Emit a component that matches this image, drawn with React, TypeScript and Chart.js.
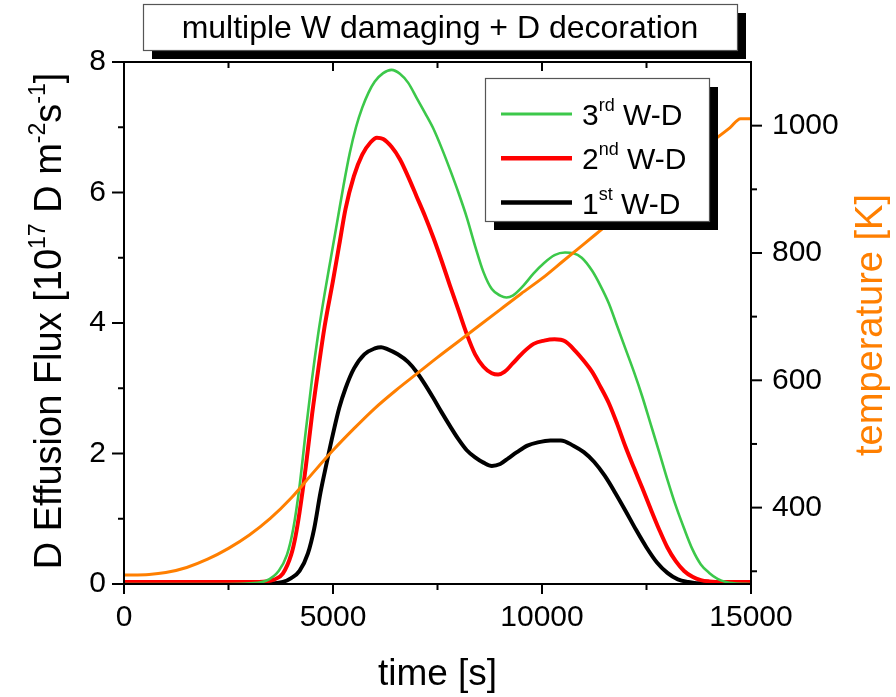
import React, { useEffect, useRef } from 'react';
import { Chart, registerables } from 'chart.js';

Chart.register(...registerables);

const FONT = '"Liberation Sans", Arial, Helvetica, sans-serif';

// Axis ticks
const timeTicks = [0, 5000, 10000, 15000];
const timeMinorTicks = [2500, 7500, 12500];
const fluxTicks = [0, 2, 4, 6, 8];
const fluxMinorTicks = [1, 3, 5, 7];
const tempTicks = [400, 600, 800, 1000];
const tempMinorTicks = [300, 500, 700, 900];

// 1st W-D desorption flux [1e17 D m^-2 s^-1]
const firstTime = [0, 2000, 3000, 3500, 3800, 4000, 4200, 4400, 4550, 4700, 4850, 5000, 5150, 5300, 5500, 5750, 6000, 6150, 6300, 6550, 6800, 7000, 7200, 7400, 7600, 7800, 8000, 8200, 8400, 8600, 8800, 9000, 9200, 9400, 9650, 9900, 10200, 10450, 10750, 11000, 11250, 11500, 11750, 12000, 12250, 12500, 12750, 13000, 13250, 13500, 13750, 14000, 15000];
const firstFlux = [0.01, 0.01, 0.01, 0.01, 0.03, 0.09, 0.2, 0.47, 0.85, 1.4, 1.86, 2.3, 2.7, 3.0, 3.3, 3.52, 3.61, 3.63, 3.6, 3.52, 3.4, 3.25, 3.06, 2.85, 2.63, 2.42, 2.22, 2.05, 1.94, 1.86, 1.81, 1.84, 1.93, 2.02, 2.12, 2.17, 2.2, 2.2, 2.12, 2.02, 1.87, 1.66, 1.4, 1.12, 0.83, 0.56, 0.33, 0.17, 0.07, 0.03, 0.01, 0.01, 0.01];

// 2nd W-D
const secondTime = [0, 2000, 3000, 3400, 3600, 3800, 4000, 4100, 4200, 4350, 4500, 4650, 4800, 5000, 5150, 5300, 5500, 5700, 5900, 6050, 6200, 6400, 6600, 6800, 7000, 7200, 7400, 7600, 7800, 8000, 8200, 8400, 8600, 8800, 8950, 9100, 9300, 9550, 9800, 10050, 10300, 10550, 10800, 11000, 11200, 11400, 11600, 11800, 12000, 12200, 12400, 12600, 12800, 13000, 13200, 13400, 13600, 13800, 14000, 14300, 15000];
const secondFlux = [0.03, 0.03, 0.03, 0.04, 0.07, 0.16, 0.45, 0.72, 1.1, 1.8, 2.6, 3.3, 3.95, 4.65, 5.2, 5.75, 6.25, 6.58, 6.77, 6.84, 6.82, 6.7, 6.51, 6.24, 5.94, 5.64, 5.31, 4.95, 4.57, 4.2, 3.83, 3.52, 3.33, 3.23, 3.21, 3.25, 3.38, 3.55, 3.68, 3.73, 3.75, 3.72, 3.57, 3.42, 3.25, 3.02, 2.77, 2.45, 2.1, 1.78, 1.47, 1.15, 0.84, 0.56, 0.35, 0.2, 0.11, 0.06, 0.04, 0.03, 0.03];

// 3rd W-D
const thirdTime = [0, 2500, 3000, 3400, 3700, 3900, 4050, 4200, 4350, 4500, 4650, 4800, 4950, 5100, 5250, 5400, 5550, 5700, 5850, 6000, 6200, 6400, 6600, 6800, 7000, 7200, 7400, 7600, 7800, 8000, 8200, 8400, 8600, 8800, 9000, 9150, 9300, 9550, 9800, 10050, 10300, 10550, 10750, 10950, 11200, 11400, 11600, 11800, 12000, 12200, 12400, 12600, 12800, 13000, 13200, 13400, 13600, 13800, 14000, 14200, 14400, 14600, 15000];
const thirdFlux = [0.0, 0.0, 0.01, 0.05, 0.2, 0.45, 0.85, 1.5, 2.35, 3.15, 3.85, 4.45, 5.0, 5.55, 6.1, 6.6, 7.0, 7.3, 7.53, 7.7, 7.83, 7.88, 7.82, 7.68, 7.45, 7.22, 6.98, 6.68, 6.35, 6.0, 5.62, 5.18, 4.78, 4.52, 4.42, 4.39, 4.42, 4.57, 4.76, 4.92, 5.04, 5.08, 5.07, 5.0, 4.8, 4.57, 4.3, 3.95, 3.6, 3.25, 2.87, 2.45, 2.03, 1.6, 1.2, 0.85, 0.53, 0.3, 0.17, 0.08, 0.03, 0.01, 0.0];

// Sample temperature [K]
const tempTime = [0, 600, 1000, 1500, 2000, 2500, 3000, 3500, 4000, 4500, 5000, 5500, 6000, 6500, 7000, 7500, 8000, 8500, 9000, 9500, 10000, 10500, 11000, 11500, 12000, 12500, 13000, 13500, 14000, 14500, 14750, 15000];
const temperature = [294, 295, 298, 306, 319, 336, 357, 383, 415, 453, 490, 524, 556, 584, 610, 636, 661, 686, 711, 736, 760, 787, 814, 841, 868, 895, 921, 947, 972, 997, 1011, 1011];

// Legend entries, top to bottom
const legendNumbers = ['3', '2', '1'];
const legendSuffixes = ['rd', 'nd', 'st'];
const legendColors = ['#3cc84a', '#ff0000', '#000000'];
const legendWidths = [3, 4.5, 4.5];

const GREEN = '#3cc84a';
const RED = '#ff0000';
const BLACK = '#000000';
const ORANGE = '#ff7f00';

const pts = (xs: number[], ys: number[]) => xs.map((x, i) => ({ x, y: ys[i] }));

type Part = { text: string; size: number; rise?: number };

function richWidth(ctx: CanvasRenderingContext2D, parts: Part[]) {
  let w = 0;
  for (const p of parts) {
    ctx.font = `${p.size}px ${FONT}`;
    w += ctx.measureText(p.text).width;
  }
  return w;
}

function drawRich(ctx: CanvasRenderingContext2D, parts: Part[], x: number, y: number) {
  let cx = x;
  ctx.textBaseline = 'alphabetic';
  ctx.textAlign = 'left';
  for (const p of parts) {
    ctx.font = `${p.size}px ${FONT}`;
    ctx.fillText(p.text, cx, y - (p.rise || 0));
    cx += ctx.measureText(p.text).width;
  }
}

const framePlugin = {
  id: 'frameAndTicks',
  afterDraw(chart: any) {
    const { ctx, chartArea: a, scales } = chart;
    const sx = scales.x, sy = scales.y, sy2 = scales.y2;
    ctx.save();
    ctx.strokeStyle = '#000';
    ctx.lineWidth = 2;
    ctx.lineCap = 'butt';
    ctx.strokeRect(a.left, a.top, a.right - a.left, a.bottom - a.top);
    const line = (x1: number, y1: number, x2: number, y2: number) => {
      ctx.beginPath();
      ctx.moveTo(x1, y1);
      ctx.lineTo(x2, y2);
      ctx.stroke();
    };
    fluxTicks.forEach((v) => { const p = sy.getPixelForValue(v); line(a.left - 12, p, a.left, p); });
    fluxMinorTicks.forEach((v) => { const p = sy.getPixelForValue(v); line(a.left - 6, p, a.left, p); });
    tempTicks.forEach((v) => { const p = sy2.getPixelForValue(v); line(a.right, p, a.right + 11, p); });
    tempMinorTicks.forEach((v) => { const p = sy2.getPixelForValue(v); line(a.right, p, a.right + 6, p); });
    timeTicks.forEach((v) => {
      const p = sx.getPixelForValue(v);
      line(p, a.bottom, p, a.bottom + 10);
      line(p, a.top, p, a.top + 9);
    });
    timeMinorTicks.forEach((v) => {
      const p = sx.getPixelForValue(v);
      line(p, a.bottom, p, a.bottom + 6);
      line(p, a.top, p, a.top + 6);
    });
    ctx.restore();
  },
};

const annotationPlugin = {
  id: 'titlesAndLegend',
  afterDraw(chart: any) {
    const { ctx, chartArea: a } = chart;
    ctx.save();

    // Title box with drop shadow
    const tb = { x: 143, y: 4, w: 594, h: 46 };
    ctx.fillStyle = '#000';
    ctx.fillRect(tb.x + 9, tb.y + 9, tb.w, tb.h);
    ctx.fillStyle = '#fff';
    ctx.fillRect(tb.x, tb.y, tb.w, tb.h);
    ctx.strokeStyle = '#555';
    ctx.lineWidth = 1.2;
    ctx.strokeRect(tb.x + 0.5, tb.y + 0.5, tb.w, tb.h);
    ctx.fillStyle = '#000';
    ctx.font = `32px ${FONT}`;
    ctx.textAlign = 'center';
    ctx.textBaseline = 'alphabetic';
    ctx.fillText('multiple W damaging + D decoration', tb.x + tb.w / 2, 38);

    // Legend box with drop shadow
    const lb = { x: 485, y: 78, w: 224, h: 143 };
    ctx.fillStyle = '#000';
    ctx.fillRect(lb.x + 9, lb.y + 9, lb.w, lb.h);
    ctx.fillStyle = '#fff';
    ctx.fillRect(lb.x, lb.y, lb.w, lb.h);
    ctx.strokeStyle = '#555';
    ctx.lineWidth = 1.2;
    ctx.strokeRect(lb.x + 0.5, lb.y + 0.5, lb.w, lb.h);
    legendNumbers.forEach((n, i) => {
      const ry = 114 + i * 44.3;
      ctx.strokeStyle = legendColors[i];
      ctx.lineWidth = legendWidths[i];
      ctx.beginPath();
      ctx.moveTo(501, ry);
      ctx.lineTo(572, ry);
      ctx.stroke();
      ctx.fillStyle = '#000';
      drawRich(ctx, [
        { text: n, size: 30 },
        { text: legendSuffixes[i], size: 18, rise: 14 },
        { text: ' W-D', size: 30 },
      ], 582, ry + 11);
    });

    // Left axis title (rotated)
    const yParts: Part[] = [
      { text: 'D Effusion Flux [10', size: 38 },
      { text: '17', size: 23, rise: 16 },
      { text: ' D m', size: 38 },
      { text: '-2', size: 23, rise: 16 },
      { text: 's', size: 38 },
      { text: '-1', size: 23, rise: 16 },
      { text: ']', size: 38 },
    ];
    const cy = (a.top + a.bottom) / 2;
    ctx.fillStyle = '#000';
    ctx.save();
    ctx.translate(61, cy - 2);
    ctx.rotate(-Math.PI / 2);
    drawRich(ctx, yParts, -richWidth(ctx, yParts) / 2, 0);
    ctx.restore();

    // Right axis title (rotated)
    ctx.save();
    ctx.translate(882, cy + 2);
    ctx.rotate(-Math.PI / 2);
    ctx.fillStyle = ORANGE;
    ctx.font = `38px ${FONT}`;
    ctx.textAlign = 'center';
    ctx.textBaseline = 'alphabetic';
    ctx.fillText('temperature [K]', 0, 0);
    ctx.restore();

    // Bottom axis title
    ctx.fillStyle = '#000';
    ctx.font = `37px ${FONT}`;
    ctx.textAlign = 'center';
    ctx.textBaseline = 'alphabetic';
    ctx.fillText('time [s]', (a.left + a.right) / 2, 685);

    ctx.restore();
  },
};

export default function App() {
  const canvasRef = useRef<HTMLCanvasElement | null>(null);

  useEffect(() => {
    const canvas = canvasRef.current;
    if (!canvas) return;
    const lineOpts = {
      pointRadius: 0,
      pointHoverRadius: 0,
      fill: false,
      cubicInterpolationMode: 'monotone' as const,
    };
    const chart = new Chart(canvas, {
      type: 'line',
      data: {
        datasets: [
          { label: 'temperature', data: pts(tempTime, temperature), borderColor: ORANGE, borderWidth: 3, yAxisID: 'y2', order: 0, ...lineOpts },
          { label: '3rd W-D', data: pts(thirdTime, thirdFlux), borderColor: GREEN, borderWidth: 2.6, yAxisID: 'y', order: 1, ...lineOpts },
          { label: '2nd W-D', data: pts(secondTime, secondFlux), borderColor: RED, borderWidth: 4, yAxisID: 'y', order: 2, ...lineOpts },
          { label: '1st W-D', data: pts(firstTime, firstFlux), borderColor: BLACK, borderWidth: 4, yAxisID: 'y', order: 3, ...lineOpts },
        ],
      },
      options: {
        responsive: false,
        animation: false,
        events: [],
        layout: { padding: { top: 62, left: 0, right: 0, bottom: 0 } },
        plugins: {
          legend: { display: false },
          title: { display: false },
          tooltip: { enabled: false },
        },
        scales: {
          x: {
            type: 'linear',
            min: 0,
            max: 15000,
            grid: { display: false, drawTicks: false },
            border: { display: false },
            afterBuildTicks: (s: any) => { s.ticks = timeTicks.map((v) => ({ value: v })); },
            afterFit: (s: any) => { s.height = 113; },
            ticks: {
              padding: 16,
              maxRotation: 0,
              autoSkip: false,
              color: '#000',
              font: { family: FONT, size: 30 },
              callback: (v: any) => String(v),
            },
          },
          y: {
            type: 'linear',
            position: 'left',
            min: 0,
            max: 8,
            grid: { display: false, drawTicks: false },
            border: { display: false },
            afterBuildTicks: (s: any) => { s.ticks = fluxTicks.map((v) => ({ value: v })); },
            afterFit: (s: any) => { s.width = 124; },
            ticks: {
              padding: 18,
              color: '#000',
              font: { family: FONT, size: 30 },
              callback: (v: any) => String(v),
            },
          },
          y2: {
            type: 'linear',
            position: 'right',
            min: 280,
            max: 1100,
            grid: { display: false, drawTicks: false },
            border: { display: false },
            afterBuildTicks: (s: any) => { s.ticks = tempTicks.map((v) => ({ value: v })); },
            afterFit: (s: any) => { s.width = 145; },
            ticks: {
              padding: 21,
              color: '#000',
              font: { family: FONT, size: 30 },
              callback: (v: any) => String(v),
            },
          },
        },
      },
      plugins: [framePlugin, annotationPlugin],
    });
    return () => chart.destroy();
  }, []);

  return (
    <div style={{ position: 'fixed', left: 0, top: 0, width: 896, height: 697, background: '#fff' }}>
      <canvas ref={canvasRef} width={896} height={697} style={{ display: 'block' }} />
    </div>
  );
}
